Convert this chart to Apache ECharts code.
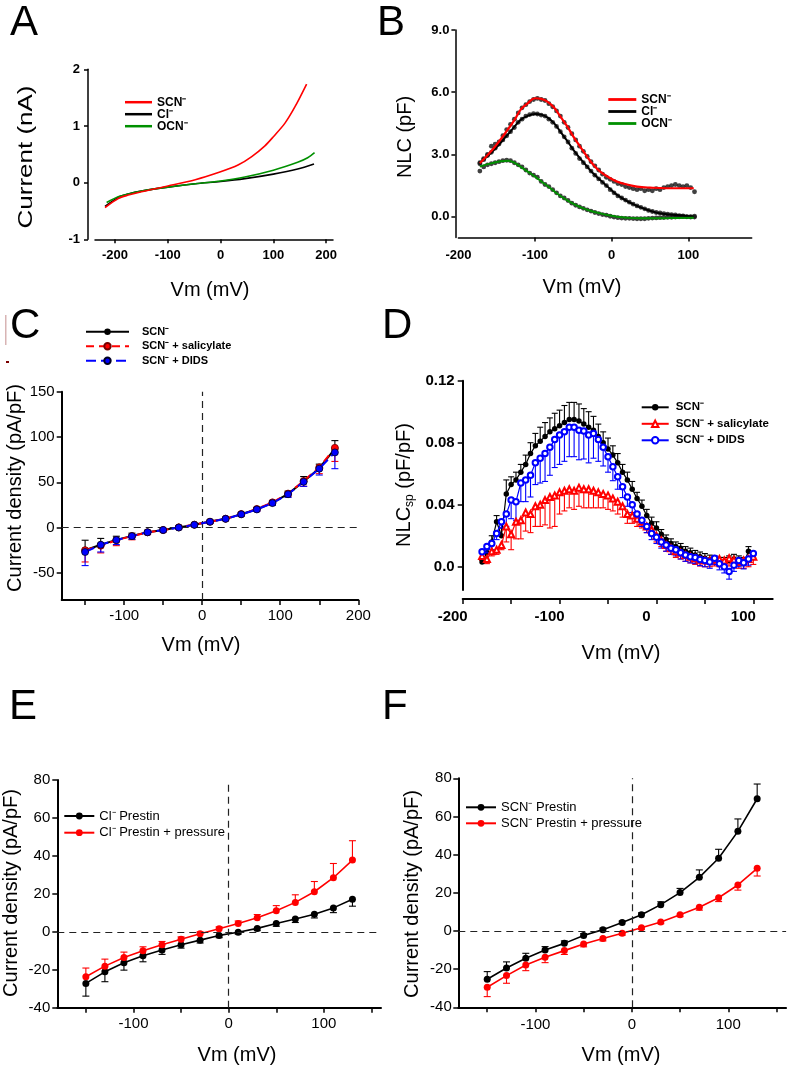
<!DOCTYPE html>
<html>
<head>
<meta charset="utf-8">
<title>Prestin anion currents and NLC</title>
<script src="https://cdn.jsdelivr.net/npm/echarts@6.0.0/dist/echarts.min.js"></script>
<style>
html,body{margin:0;padding:0;background:#fff;}
#chart{width:787px;height:1067px;}
</style>
</head>
<body>
<div id="chart"></div>
<script>
// ======================= DATA =======================
// Panel A : current (nA) vs Vm (mV)
const A_names  = ['SCN⁻', 'Cl⁻', 'OCN⁻'];
const A_vm_scn = [-219, -194, -175, -150, -100, -48, 0, 33, 59, 84, 100, 122, 141, 163];
const A_scn    = [-0.44, -0.28, -0.22, -0.16, -0.06, 0.05, 0.19, 0.31, 0.46, 0.65, 0.81, 1.05, 1.34, 1.74];
const A_vm_cl  = [-219, -194, -175, -150, -100, -48, 0, 46, 100, 146, 177];
const A_cl     = [-0.42, -0.26, -0.20, -0.15, -0.08, -0.02, 0.02, 0.07, 0.15, 0.24, 0.33];
const A_vm_ocn = [-216, -194, -175, -150, -100, -48, 0, 46, 100, 146, 165, 178];
const A_ocn    = [-0.35, -0.25, -0.20, -0.15, -0.08, -0.02, 0.03, 0.10, 0.22, 0.36, 0.44, 0.53];
const A_xticks = [-200, -100, 0, 100, 200];
const A_yticks = [-1, 0, 1, 2];

// Panel B : NLC (pF) vs Vm (mV) ; fits + measured dots
const B_names   = ['SCN⁻', 'Cl⁻', 'OCN⁻'];
const B_vm_fit_scn = [-172, -163, -154, -145, -136, -127, -119, -110, -100, -92, -84, -75, -67, -58, -50, -41, -32, -24, -15, -4, 7, 20, 33, 50, 72, 90, 107];
const B_fit_scn    = [2.58, 2.93, 3.30, 3.72, 4.18, 4.65, 5.15, 5.45, 5.71, 5.68, 5.55, 5.25, 4.83, 4.35, 3.86, 3.37, 2.89, 2.50, 2.17, 1.90, 1.69, 1.55, 1.45, 1.40, 1.37, 1.37, 1.37];
const B_vm_fit_cl  = [-172, -154, -136, -119, -110, -100, -92, -84, -75, -67, -58, -50, -41, -32, -24, -15, -4, 7, 20, 33, 46, 59, 72, 85, 107];
const B_fit_cl     = [2.60, 3.20, 3.94, 4.66, 4.85, 4.95, 4.92, 4.79, 4.50, 4.10, 3.65, 3.22, 2.80, 2.41, 2.08, 1.77, 1.40, 1.05, 0.75, 0.52, 0.33, 0.19, 0.12, 0.08, 0.00];
const B_vm_fit_ocn = [-172, -163, -154, -145, -135, -127, -119, -110, -100, -90, -80, -70, -59, -48, -37, -26, -15, -4, 7, 20, 35, 50, 75, 107];
const B_fit_ocn    = [2.41, 2.52, 2.60, 2.67, 2.70, 2.60, 2.41, 2.18, 1.93, 1.65, 1.37, 1.08, 0.81, 0.58, 0.40, 0.26, 0.16, 0.07, 0.00, -0.05, -0.08, -0.08, -0.07, -0.05];
const B_vm_dots = [-172,-167,-162,-157,-152,-147,-142,-137,-132,-127,-122,-117,-112,-107,-102,-97,-92,-87,-82,-77,-72,-67,-62,-57,-52,-47,-42,-37,-32,-27,-22,-17,-12,-7,-2,3,8,13,18,23,28,33,38,43,48,53,58,63,68,73,78,83,88,93,98,103,108];
const B_dots_scn = [2.6,2.8,3.0,3.4,3.5,3.6,3.9,4.2,4.45,4.7,5.0,5.25,5.4,5.55,5.65,5.7,5.65,5.6,5.45,5.3,5.1,4.85,4.55,4.3,4.0,3.7,3.4,3.15,2.9,2.65,2.45,2.25,2.05,1.9,1.8,1.7,1.6,1.55,1.45,1.4,1.35,1.3,1.35,1.25,1.3,1.25,1.35,1.3,1.4,1.45,1.5,1.55,1.5,1.45,1.5,1.4,1.2];
const B_dots_cl  = [2.55,2.75,2.95,3.1,3.3,3.5,3.7,3.9,4.1,4.3,4.55,4.7,4.85,4.92,4.97,4.95,4.9,4.85,4.7,4.55,4.35,4.1,3.85,3.6,3.3,3.05,2.8,2.6,2.4,2.2,2.0,1.82,1.65,1.5,1.3,1.15,1.0,0.9,0.8,0.7,0.6,0.52,0.45,0.38,0.3,0.25,0.2,0.18,0.15,0.12,0.1,0.08,0.05,0.04,0.0,0.0,0.02];
const B_dots_ocn = [2.2,2.4,2.5,2.55,2.6,2.65,2.7,2.72,2.7,2.6,2.5,2.4,2.25,2.1,2.0,1.9,1.7,1.55,1.45,1.3,1.15,1.0,0.9,0.78,0.65,0.55,0.47,0.4,0.33,0.27,0.2,0.15,0.1,0.07,0.02,-0.02,-0.05,-0.07,-0.08,-0.08,-0.09,-0.1,-0.1,-0.1,-0.08,-0.07,-0.06,-0.05,-0.04,-0.03,-0.03,-0.02,-0.01,0.0,-0.01,-0.02,-0.02];
const B_xticks = [-100, 0, 100];
const B_xlabels = [-200, -100, 0, 100];
const B_yticks = [0, 3, 6, 9];

// Panel C : current density (pA/pF)
const C_names = ['SCN⁻', 'SCN⁻ + salicylate', 'SCN⁻ + DIDS'];
const C_vm    = [-150,-130,-110,-90,-70,-50,-30,-10,10,30,50,70,90,110,130,150,170];
const C_scn   = [-25,-19,-13.6,-9.2,-5.1,-2.6,0.2,3,6.6,9.6,14.7,20.2,27.3,37.2,50.8,65.5,87];
const C_sal   = [-25,-20,-14,-9.5,-5.3,-2.8,0.2,3.2,6.4,9.8,14.9,20.5,27.8,37.5,51.5,66.5,88];
const C_dids  = [-27,-19,-13.8,-9.5,-5.2,-2.7,0,3,6.4,9.6,14.6,20,27,36.8,50.5,65,83];
const C_scn_err  = [11,7,4,3,2,1.5,1.5,1.5,1.5,1.5,2,2,2.5,3,5.5,4.5,9];
const C_sal_err  = [13,8,6,4,2.5,2,1.5,1.5,1.5,1.5,2,2.5,2.5,3.5,6,7,15];
const C_dids_err = [15,8,5,3.5,2.5,2,1.5,1.5,1.5,1.5,2,2,2.5,3.5,5,7,18];
const C_xticks = [-150,-100,-50,0,50,100,150,200];
const C_xlabels = [-100,0,100,200];
const C_yticks = [-50,0,50,100,150];

// Panel D : specific NLC (pF/pF)
const D_names = ['SCN⁻', 'SCN⁻ + salicylate', 'SCN⁻ + DIDS'];
const D_vm = [-180,-175,-170,-165,-160,-155,-150,-145,-140,-135,-130,-125,-120,-115,-110,-105,-100,-95,-90,-85,-80,-75,-70,-65,-60,-55,-50,-45,-40,-35,-30,-25,-20,-15,-10,-5,0,5,10,15,20,25,30,35,40,45,50,55,60,65,70,75,80,85,90,95,100];
const D_scn = [0.003,0.009,0.016,0.029,0.020, 0.047,0.053,0.056,0.061,0.066, 0.073,0.078,0.081,0.084,0.087, 0.089,0.091,0.093,0.095,0.095, 0.094,0.092,0.090,0.088,0.084, 0.080,0.076,0.072,0.067,0.061, 0.056,0.050,0.044,0.039,0.033, 0.028,0.025,0.021,0.0175,0.015, 0.013,0.012,0.010,0.009,0.0075, 0.0065,0.0055,0.0045,0.004,0.003, 0.003,0.004,0.005,0.004,0.002, 0.010,0.006];
const D_sal = [0.007,0.005,0.010,0.011,0.014, 0.026,0.021,0.029,0.030,0.035, 0.034,0.039,0.040,0.043,0.045, 0.046,0.048,0.049,0.050,0.049, 0.051,0.050,0.050,0.049,0.048, 0.047,0.046,0.044,0.042,0.039, 0.034,0.033,0.031,0.029,0.026, 0.024,0.020,0.017,0.014,0.012, 0.010,0.009,0.0075,0.0065,0.0055, 0.0045,0.004,0.004,0.0045,0.005, 0.004,0.0055,0.0045,0.003,0.004, 0.005,0.0065];
const D_dids = [0.0097,0.013,0.015,0.0215,0.029, 0.034,0.043,0.042,0.054,0.056, 0.059,0.067,0.070,0.073,0.077, 0.082,0.085,0.087,0.090,0.090, 0.088,0.0875,0.085,0.086,0.082, 0.077,0.071,0.0645,0.058,0.0516, 0.045,0.040,0.034,0.030,0.026, 0.0215,0.019,0.016,0.014,0.012, 0.011,0.009,0.0075,0.0065,0.006, 0.0047,0.004,0.003,0.0054,0.002, 0.0,-0.003,0.001,0.004,0.0026, 0.005,0.0086];
const D_scn_err = [0.002,0.003,0.004,0.004,0.005, 0.009,0.005,0.005,0.005,0.006, 0.007,0.008,0.009,0.009,0.009, 0.010,0.010,0.011,0.011,0.011, 0.011,0.010,0.010,0.009,0.008, 0.007,0.007,0.006,0.006,0.005, 0.005,0.005,0.004,0.004,0.004, 0.004,0.004,0.003,0.003,0.003, 0.003,0.003,0.003,0.003,0.003, 0.003,0.003,0.003,0.003,0.003, 0.003,0.003,0.003,0.003,0.004, 0.003,0.003];
const D_sal_err = [0.003,0.003,0.003,0.003,0.003, 0.010,0.010,0.011,0.012,0.012, 0.012,0.013,0.014,0.016,0.020, 0.020,0.014,0.013,0.012,0.012, 0.012,0.012,0.012,0.011,0.010, 0.009,0.009,0.008,0.008,0.007, 0.006,0.005,0.005,0.004,0.004, 0.004,0.004,0.004,0.004,0.004, 0.004,0.004,0.004,0.004,0.004, 0.004,0.004,0.004,0.004,0.005, 0.004,0.005,0.004,0.004,0.005, 0.005,0.005];
const D_dids_err = [0.004,0.004,0.004,0.004,0.004, 0.008,0.012,0.012,0.012,0.014, 0.014,0.014,0.016,0.018,0.018, 0.018,0.019,0.019,0.019,0.019, 0.019,0.018,0.018,0.016,0.014, 0.012,0.010,0.009,0.008,0.007, 0.006,0.005,0.005,0.004,0.004, 0.004,0.004,0.004,0.004,0.004, 0.004,0.004,0.004,0.004,0.004, 0.004,0.004,0.004,0.004,0.004, 0.004,0.005,0.004,0.004,0.004, 0.004,0.004];
const D_xticks = [-200,-150,-100,-50,0,50,100];
const D_xlabels = [-200,-100,0,100];
const D_yticks = [0, 0.04, 0.08, 0.12];

// Panel E : Cl- prestin, current density (pA/pF)
const E_names = ['Cl⁻ Prestin', 'Cl⁻ Prestin + pressure'];
const E_vm   = [-150,-130,-110,-90,-70,-50,-30,-10,10,30,50,70,90,110,130];
const E_ctl  = [-27.2,-21.1,-16.3,-12.6,-9.6,-6.8,-4.4,-1.9,-0.2,1.8,4.4,6.7,9.3,12.6,17.1];
const E_ctl_err = [6.7,5.2,3.9,3.2,2.3,1.8,1.5,1.2,1.0,1.2,1.5,1.8,2.0,2.5,3.6];
const E_prs  = [-23.7,-18.1,-13.5,-10,-6.8,-3.9,-1,1.6,4.4,7.4,11.1,15.5,21.1,28.5,37.8];
const E_prs_err = [4.6,3.7,2.8,2.1,1.7,1.2,1.0,1.0,1.3,1.7,2.7,4.0,5.4,7.5,10.2];
const E_xticks = [-150,-100,-50,0,50,100,150];
const E_xlabels = [-100,0,100];
const E_yticks = [-40,-20,0,20,40,60,80];

// Panel F : SCN- prestin, current density (pA/pF)
const F_names = ['SCN⁻ Prestin', 'SCN⁻ Prestin + pressure'];
const F_vm   = [-150,-130,-110,-90,-70,-50,-30,-10,10,30,50,70,90,110,130];
const F_ctl  = [-25.3,-19.4,-14.3,-10,-6.5,-2.4,0.7,4.4,8.5,13.8,20.1,28.1,38.1,52.2,69.3];
const F_ctl_err = [4,3.2,2.6,1.8,1.3,1.0,0.8,0.8,1.0,1.5,2.2,3.9,4.7,6.5,7.7];
const F_prs  = [-29.5,-23.4,-17.8,-13.8,-10.3,-6.8,-4,-1.2,1.7,4.7,8.5,12.4,17.4,24.1,32.8];
const F_prs_err = [4.9,4.0,3.0,2.8,2.0,1.5,1.2,1.0,0.8,0.9,1.0,1.5,2.0,2.7,4.0];
const F_xticks = [-150,-100,-50,0,50,100,150];
const F_xlabels = [-100,0,100];
const F_yticks = [-40,-20,0,20,40,60,80];

// ======================= BUILD =======================
const FONT = '"Liberation Sans", Arial, Helvetica, sans-serif';
const RED = '#ff0000', GREEN = '#009000', BLUE = '#0000ff', BLACK = '#000000';
const LBL = {};
A_names.forEach((n, i) => LBL['A' + i] = n);
B_names.forEach((n, i) => LBL['B' + i] = n);
C_names.forEach((n, i) => LBL['C' + i] = n);
D_names.forEach((n, i) => LBL['D' + i] = n);
E_names.forEach((n, i) => LBL['E' + i] = n);
F_names.forEach((n, i) => LBL['F' + i] = n);

function zip(xs, ys) { return xs.map((x, i) => [x, ys[i]]); }

function axis(dim, gi, min, max, ticks, labels, o) {
  const a = {
    type: 'value', gridIndex: gi, min: min, max: max,
    position: dim === 'x' ? 'bottom' : 'left',
    offset: o.offset || 0,
    axisLine: { show: true, onZero: false, lineStyle: { color: '#000', width: o.lw || 2 } },
    axisTick: { show: true, inside: false, length: o.tl || 5, lineStyle: { color: '#000', width: o.tw || 1.5 }, customValues: ticks },
    axisLabel: { show: true, customValues: labels, fontSize: o.fs, fontWeight: o.fw || 'normal', fontFamily: FONT, color: '#000', margin: o.m },
    splitLine: { show: false }
  };
  if (o.pad) a.axisLabel.padding = o.pad;
  if (o.fmt) a.axisLabel.formatter = o.fmt;
  return a;
}

function errSeries(gi, xs, ys, es, sign, color, cap, z) {
  return {
    type: 'custom', xAxisIndex: gi, yAxisIndex: gi, silent: true, z: z || 2, clip: false,
    data: xs.map((x, i) => [x, ys[i], sign * es[i]]),
    encode: { x: 0, y: 1 },
    renderItem: function (params, api) {
      const x = api.value(0), y = api.value(1), e = api.value(2);
      const p0 = api.coord([x, y]), p1 = api.coord([x, y + e]);
      return { type: 'group', children: [
        { type: 'line', shape: { x1: p0[0], y1: p0[1], x2: p1[0], y2: p1[1] }, style: { stroke: color, lineWidth: 1.1 } },
        { type: 'line', shape: { x1: p1[0] - cap, y1: p1[1], x2: p1[0] + cap, y2: p1[1] }, style: { stroke: color, lineWidth: 1.1 } }
      ] };
    }
  };
}

function line(name, gi, xs, ys, opt) {
  return Object.assign({
    type: 'line', name: name, xAxisIndex: gi, yAxisIndex: gi, data: zip(xs, ys),
    symbol: 'none', z: 3
  }, opt);
}

const dashed = { color: '#222', width: 1.2, type: [7, 5] };
const zeroLines = {
  silent: true, symbol: ['none', 'none'], label: { show: false },
  lineStyle: dashed, animation: false,
  data: [{ yAxis: 0 }, { xAxis: 0 }]
};

const grids = [
  { left: 95,    top: 69.3,  width: 238,   height: 170 },   // A
  { left: 458.4, top: 30,    width: 293.3, height: 207.4 }, // B
  { left: 61.7,  top: 391.7, width: 296.6, height: 208.3 }, // C
  { left: 462.7, top: 380.7, width: 310,   height: 209.3 }, // D
  { left: 57.3,  top: 780,   width: 323.7, height: 227.7 }, // E
  { left: 458.3, top: 778.3, width: 327.8, height: 229 }    // F
].map(g => Object.assign({ containLabel: false, outerBoundsMode: 'none' }, g));

const xAxes = [
  axis('x', 0, -238, 213, A_xticks, A_xticks, { fs: 13, fw: 'bold', m: 9.5, lw: 1.5, tl: 4 }),
  axis('x', 1, -200, 182.6, B_xticks, B_xlabels, { fs: 13, fw: 'bold', m: 12, lw: 1.5, tl: 4 }),
  axis('x', 2, -180, 200, C_xticks, C_xlabels, { fs: 15, m: 8.5 }),
  axis('x', 3, -200, 120, D_xticks, D_xlabels, { fs: 15, fw: 'bold', m: 10, offset: 9, pad: [0, 20, 0, 0] }),
  axis('x', 4, -180, 160, E_xticks, E_xlabels, { fs: 15, m: 9 }),
  axis('x', 5, -180, 160, F_xticks, F_xlabels, { fs: 15, m: 10 })
];
const yAxes = [
  axis('y', 0, -1, 2, A_yticks, A_yticks, { fs: 13, fw: 'bold', m: 8, lw: 1.5, tl: 4, offset: 7 }),
  axis('y', 1, -1, 9, B_yticks, B_yticks, { fs: 13, fw: 'bold', m: 6, lw: 1.5, tl: 4, offset: 3, fmt: v => Number(v).toFixed(1) }),
  axis('y', 2, -80, 150, C_yticks, C_yticks, { fs: 15, m: 7 }),
  axis('y', 3, -0.015, 0.12, D_yticks, D_yticks, { fs: 15, fw: 'bold', m: 8, fmt: v => (Math.abs(v) < 1e-9 ? '0.0' : Number(v).toFixed(2)) }),
  axis('y', 4, -40, 80, E_yticks, E_yticks, { fs: 15, m: 7 }),
  axis('y', 5, -40, 80, F_yticks, F_yticks, { fs: 15, m: 6.5 })
];

const series = [];
// ---- A
series.push(line('A1', 0, A_vm_cl,  A_cl,  { smooth: 0.3, lineStyle: { color: BLACK, width: 1.6 }, itemStyle: { color: BLACK } }));
series.push(line('A2', 0, A_vm_ocn, A_ocn, { smooth: 0.3, lineStyle: { color: GREEN, width: 1.6 }, itemStyle: { color: GREEN } }));
series.push(line('A0', 0, A_vm_scn, A_scn, { smooth: 0.3, lineStyle: { color: RED, width: 1.6 }, itemStyle: { color: RED } }));
// ---- B dots
[B_dots_scn, B_dots_cl, B_dots_ocn].forEach(d => series.push({
  type: 'scatter', xAxisIndex: 1, yAxisIndex: 1, data: zip(B_vm_dots, d), symbolSize: 4.8,
  itemStyle: { color: '#111' }, z: 2, silent: true
}));
series.push(line('B1', 1, B_vm_fit_cl,  B_fit_cl,  { smooth: 0.4, lineStyle: { color: BLACK, width: 2 }, itemStyle: { color: BLACK } }));
series.push(line('B2', 1, B_vm_fit_ocn, B_fit_ocn, { smooth: 0.4, lineStyle: { color: GREEN, width: 2 }, itemStyle: { color: GREEN } }));
series.push(line('B0', 1, B_vm_fit_scn, B_fit_scn, { smooth: 0.4, lineStyle: { color: RED, width: 2.2 }, itemStyle: { color: RED } }));
// ---- C
series.push(errSeries(2, C_vm, C_scn,  C_scn_err,   1, BLACK, 3.5, 2));
series.push(errSeries(2, C_vm, C_sal,  C_sal_err,  -1, RED,   3.5, 2));
series.push(errSeries(2, C_vm, C_dids, C_dids_err, -1, BLUE,  3.5, 2));
series.push(line('C0', 2, C_vm, C_scn, { symbol: 'circle', symbolSize: 7, lineStyle: { color: BLACK, width: 2 }, itemStyle: { color: BLACK }, z: 3,
  markLine: zeroLines }));
series.push(line('C1', 2, C_vm, C_sal, { symbol: 'circle', symbolSize: 7, lineStyle: { color: RED, width: 2, type: [8, 5] }, itemStyle: { color: RED, borderColor: '#700', borderWidth: 0.8 }, z: 4 }));
series.push(line('C2', 2, C_vm, C_dids, { symbol: 'circle', symbolSize: 7, lineStyle: { color: BLUE, width: 2, type: [10, 5] }, itemStyle: { color: BLUE, borderColor: '#002', borderWidth: 0.8 }, z: 5 }));
// ---- D
series.push(errSeries(3, D_vm, D_scn, D_scn_err, 1, BLACK, 3, 2));
series.push(line('D0', 3, D_vm, D_scn, { symbol: 'circle', symbolSize: 5.5, lineStyle: { color: BLACK, width: 1.2 }, itemStyle: { color: BLACK }, z: 3 }));
series.push(errSeries(3, D_vm, D_sal, D_sal_err, -1, RED, 3, 3));
series.push(line('D1', 3, D_vm, D_sal, { symbol: 'emptyTriangle', symbolSize: 6, lineStyle: { color: RED, width: 1.2 }, itemStyle: { color: RED, borderWidth: 1 }, z: 4 }));
series.push(errSeries(3, D_vm, D_dids, D_dids_err, -1, BLUE, 3, 4));
series.push(line('D2', 3, D_vm, D_dids, { symbol: 'emptyCircle', symbolSize: 5.5, lineStyle: { color: BLUE, width: 1.2 }, itemStyle: { color: BLUE, borderWidth: 1.3 }, z: 5 }));
// ---- E
series.push(errSeries(4, E_vm, E_ctl, E_ctl_err, -1, BLACK, 3.5, 2));
series.push(errSeries(4, E_vm, E_prs, E_prs_err,  1, RED,   3.5, 2));
series.push(line('E0', 4, E_vm, E_ctl, { symbol: 'circle', symbolSize: 7, lineStyle: { color: BLACK, width: 1.6 }, itemStyle: { color: BLACK }, z: 3, markLine: zeroLines }));
series.push(line('E1', 4, E_vm, E_prs, { symbol: 'circle', symbolSize: 7, lineStyle: { color: RED, width: 1.6 }, itemStyle: { color: RED }, z: 4 }));
// ---- F
series.push(errSeries(5, F_vm, F_ctl, F_ctl_err,  1, BLACK, 3.5, 2));
series.push(errSeries(5, F_vm, F_prs, F_prs_err, -1, RED,   3.5, 2));
series.push(line('F0', 5, F_vm, F_ctl, { symbol: 'circle', symbolSize: 7, lineStyle: { color: BLACK, width: 1.6 }, itemStyle: { color: BLACK }, z: 3, markLine: zeroLines }));
series.push(line('F1', 5, F_vm, F_prs, { symbol: 'circle', symbolSize: 7, lineStyle: { color: RED, width: 1.6 }, itemStyle: { color: RED }, z: 4 }));

function plainLegend(prefix, n, left, top, iw, ih, fs, fw, lh, gap, extra) {
  const data = [];
  for (let i = 0; i < n; i++) data.push(extra && extra.icon ? { name: prefix + i, icon: extra.icon } : { name: prefix + i });
  return Object.assign({
    orient: 'vertical', left: left, top: top, padding: 0, itemGap: gap, itemWidth: iw, itemHeight: ih,
    selectedMode: false, data: data, formatter: nm => LBL[nm],
    textStyle: { fontSize: fs, fontWeight: fw, fontFamily: FONT, color: '#000', lineHeight: lh }
  }, extra && extra.more ? extra.more : {});
}
function richLegend(prefix, n, left, top, iw, ih, fs, fw, lh, gap, spacer) {
  const data = [];
  for (let i = 0; i < n; i++) data.push({ name: prefix + i });
  return {
    orient: 'vertical', left: left, top: top, padding: 0, itemGap: gap, itemWidth: iw, itemHeight: ih,
    selectedMode: false, data: data, formatter: nm => '{g| }{t|' + LBL[nm] + '}',
    textStyle: { fontSize: fs, fontWeight: fw, fontFamily: FONT, color: '#000', lineHeight: lh,
      rich: { g: { width: spacer, lineHeight: lh, fontSize: 4 }, t: { fontSize: fs, fontWeight: fw, fontFamily: FONT, color: '#000', lineHeight: lh } } }
  };
}

const legends = [
  plainLegend('A', 3, 125, 96.2, 27, 2.5, 12, 'bold', 11, 0, { icon: 'rect' }),
  plainLegend('B', 3, 608.3, 93.5, 28, 2.8, 12, 'bold', 11, 0, { icon: 'rect' }),
  richLegend('C', 3, 85, 324.7, 43, 8, 11, 'bold', 14, 0.5, 8),
  richLegend('D', 3, 640.7, 399.3, 27, 8, 11.5, 'bold', 16, 0.5, 2),
  plainLegend('E', 2, 63.3, 808, 30, 8.5, 13, 'normal', 16, 0.7),
  plainLegend('F', 2, 465, 792.3, 30, 8.5, 13, 'normal', 16, 0, { more: { backgroundColor: '#fff', padding: [7, 5, 5, 0] } })
];

function txt(s, x, y, fs, o) {
  o = o || {};
  const e = { type: 'text', x: x, y: y, silent: true, z: 10,
    style: { text: s, fontSize: fs, fontFamily: FONT, fontWeight: o.fw || 'normal', fill: '#000', align: o.align || 'center', verticalAlign: 'middle' } };
  if (o.rot) e.rotation = o.rot;
  if (o.sx) e.scaleX = o.sx;
  if (o.rich) e.style.rich = o.rich;
  return e;
}
const R90 = Math.PI / 2;
const graphics = [
  txt('A', 10, 23, 42, { align: 'left' }),
  txt('B', 377, 23, 42, { align: 'left' }),
  txt('C', 10, 326, 42, { align: 'left' }),
  txt('D', 382, 326, 42, { align: 'left' }),
  txt('E', 9, 707.5, 42, { align: 'left' }),
  txt('F', 382, 707.5, 42, { align: 'left' }),
  txt('Current (nA)', 26, 157, 20, { rot: R90, sx: 1.3 }),
  txt('Vm (mV)', 210, 290, 20),
  txt('NLC (pF)', 405, 137, 20, { rot: R90 }),
  txt('Vm (mV)', 582, 287, 20),
  txt('Current density (pA/pF)', 15, 488, 20, { rot: R90 }),
  txt('Vm (mV)', 201, 645, 20),
  txt('{a|NLC}{s|sp}{a| (pF/pF)}', 404, 485, 20, { rot: R90, rich: {
    a: { fontSize: 20, fontFamily: FONT, lineHeight: 24, fill: '#000' },
    s: { fontSize: 12, fontFamily: FONT, lineHeight: 10, verticalAlign: 'bottom', fill: '#000' } } }),
  txt('Vm (mV)', 621, 653, 20),
  txt('Current density (pA/pF)', 11, 893, 20, { rot: R90 }),
  txt('Vm (mV)', 237, 1055, 20),
  txt('Current density (pA/pF)', 412, 894, 20, { rot: R90 }),
  txt('Vm (mV)', 621, 1055, 20),
  { type: 'rect', silent: true, shape: { x: 5, y: 315, width: 1.5, height: 30 }, style: { fill: '#d8b4b4' } },
  { type: 'rect', silent: true, shape: { x: 6, y: 361, width: 3, height: 2 }, style: { fill: '#7a0000' } }
];

const chart = echarts.init(document.getElementById('chart'), null, { renderer: 'canvas' });
chart.setOption({
  animation: false,
  backgroundColor: '#fff',
  grid: grids,
  xAxis: xAxes,
  yAxis: yAxes,
  legend: legends,
  series: series,
  graphic: graphics
});
</script>
</body>
</html>
